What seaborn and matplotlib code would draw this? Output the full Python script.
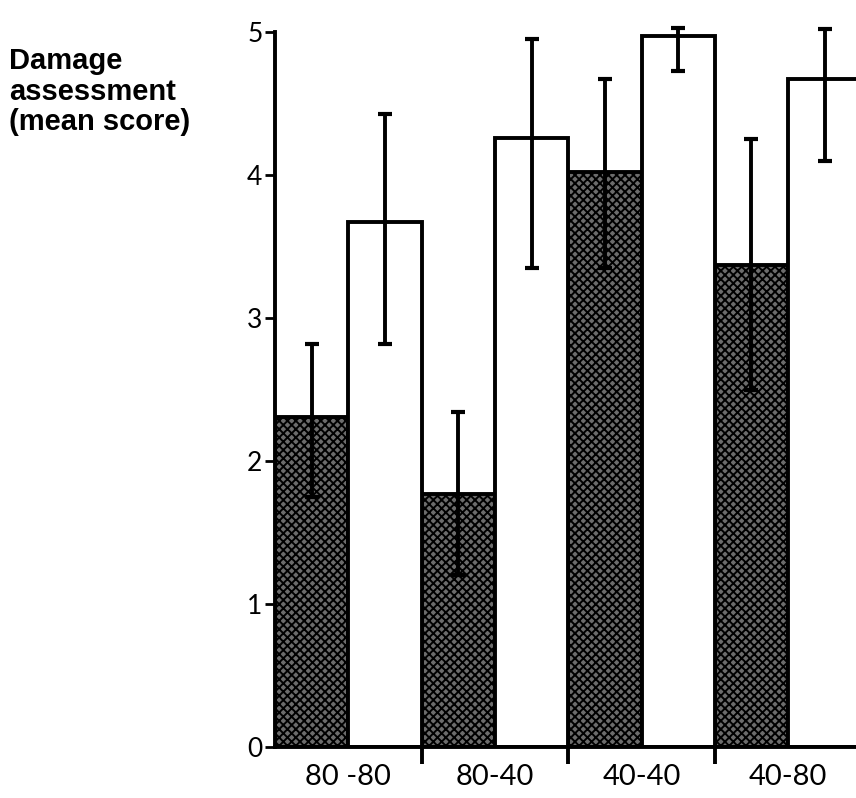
import matplotlib
matplotlib.use("Agg")
import matplotlib.pyplot as plt
import seaborn as sns
import pandas as pd
import numpy as np

# values
groups = ["80 -80", "80-40", "40-40", "40-80"]
dark_mean = [2.31, 1.77, 4.02, 3.37]
dark_low = [1.75, 1.20, 3.35, 2.50]
dark_high = [2.82, 2.34, 4.67, 4.25]
white_mean = [3.67, 4.26, 4.97, 4.67]
white_low = [2.82, 3.35, 4.73, 4.10]
white_high = [4.43, 4.95, 5.03, 5.02]

df = pd.DataFrame({
    "group": groups * 2,
    "series": ["dark"] * len(groups) + ["white"] * len(groups),
    "score": dark_mean + white_mean,
})

sns.set_style("white")
plt.rcParams["font.family"] = ["Lato", "DejaVu Sans"]
plt.rcParams["hatch.linewidth"] = 1.4
plt.rcParams["text.color"] = "black"
plt.rcParams["xtick.color"] = "black"
plt.rcParams["ytick.color"] = "black"
plt.rcParams["axes.edgecolor"] = "black"

fig = plt.figure(figsize=(8.56, 7.98), dpi=100)
ax = fig.add_axes([275 / 856, 51 / 798, 581 / 856, 747 / 798])

sns.barplot(data=df, x="group", y="score", hue="series",
            palette={"dark": "#6c6c6c", "white": "white"},
            width=1.0, errorbar=None, legend=False,
            edgecolor="black", linewidth=2.8, ax=ax)

bar_conts = list(ax.containers)

# stipple texture on the dark bars
for bar in bar_conts[0]:
    bar.set_hatch("xxxx")

# error bars
lows = [dark_low, white_low]
highs = [dark_high, white_high]
means = [dark_mean, white_mean]
for k, cont in enumerate(bar_conts):
    xs = [b.get_x() + b.get_width() / 2 for b in cont]
    m = np.array(means[k])
    yerr = [m - np.array(lows[k]), np.array(highs[k]) - m]
    ax.errorbar(xs, m, yerr=yerr, fmt="none", ecolor="black",
                elinewidth=2.8, capsize=5, capthick=3, zorder=5)

ax.set_xlim(-0.5, -0.5 + 581 / 146.6)
ax.set_ylim(0, 747 / 143)
ax.set_yticks([0, 1, 2, 3, 4, 5])
ax.set_xlabel("")
ax.set_ylabel("")

sns.despine(ax=ax, top=True, right=True)
ax.spines["left"].set_bounds(0, 5)
ax.spines["left"].set_linewidth(2.8)
ax.spines["bottom"].set_linewidth(2.8)

ax.tick_params(axis="y", direction="out", length=7, width=2, pad=2,
               labelsize=19, left=True, colors="black")
ax.tick_params(axis="x", which="major", length=0, pad=12, labelsize=21,
               colors="black")
ax.set_xticks([0.5, 1.5, 2.5], minor=True)
ax.tick_params(axis="x", which="minor", direction="out", length=12,
               width=2.8, bottom=True, colors="black")

fig.text(9 / 856, 1 - 47 / 798, "Damage\nassessment\n(mean score)",
         ha="left", va="top", fontsize=21, fontweight="bold", color="black",
         family=["Liberation Sans", "DejaVu Sans"], linespacing=1.12)

fig.savefig("out.png", dpi=100)
